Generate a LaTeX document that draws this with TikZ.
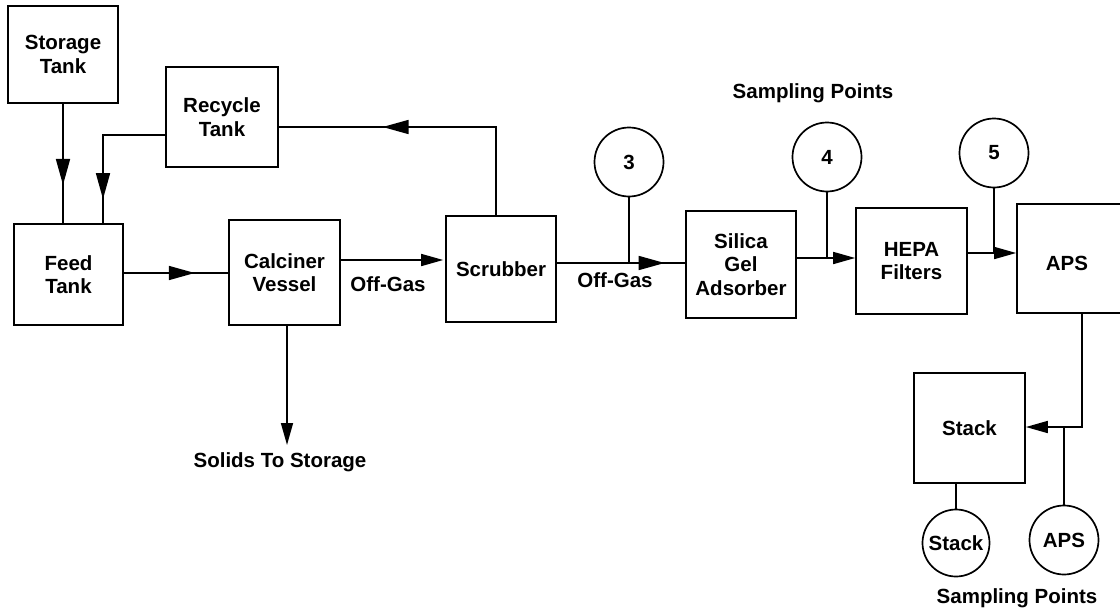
\documentclass[tikz,border=0pt]{standalone}
\usepackage{fontspec}
\setmainfont{Liberation Sans}
\usetikzlibrary{arrows.meta,decorations.markings}
\tikzset{
  every node/.style={font=\fontsize{20.5}{23.5}\selectfont\bfseries},
  box/.style={draw, line width=1.7pt, align=center, inner sep=0pt},
  samp/.style={draw, circle, line width=1.7pt, minimum size=69pt, inner sep=0pt},
  conn/.style={line width=1.7pt},
  tip/.style={-{Triangle[length=22pt,width=12pt]}},
  midarrow/.style={postaction={decorate}, decoration={markings,
      mark=at position #1 with {\arrow{Triangle[length=26pt,width=14pt]}}}},
  lbl/.style={inner sep=0pt, align=center},
}
\begin{document}
\begin{tikzpicture}[x=1pt,y=-1pt]
\useasboundingbox (0,0) rectangle (1120,613);
% boxes
\node[box, minimum width=110, minimum height=97] (storage) at (63,54.5) {Storage\\Tank};
\node[box, minimum width=112, minimum height=100] (recycle) at (222,117) {Recycle\\Tank};
\node[box, minimum width=109, minimum height=101] (feed) at (68.5,274.5) {Feed\\Tank};
\node[box, minimum width=111, minimum height=105] (calc) at (284.5,272.5) {Calciner\\Vessel};
\node[box, minimum width=110, minimum height=106] (scrub) at (501,269) {Scrubber};
\node[box, minimum width=110, minimum height=107] (silica) at (741,264.5) {Silica\\Gel\\Adsorber};
\node[box, minimum width=111, minimum height=106] (hepa) at (911.5,261) {HEPA\\Filters};
\node[box, minimum width=105, minimum height=109] (aps) at (1069.5,258.5) {};
\node[lbl] (apstext) at (1067,263) {APS};
\node[box, minimum width=111, minimum height=110] (stack) at (969.5,428) {Stack};
% sampling circles
\node[samp] (c3) at (629,162) {3};
\node[samp] (c4) at (827,157) {4};
\node[samp] (c5) at (994,153) {5};
\node[samp, minimum size=67pt] (cstack) at (956,543) {Stack};
\node[samp] (caps) at (1064,540) {APS};
% level coordinates
\coordinate (l1) at (0,273);
\coordinate (l2) at (0,260);
\coordinate (l3) at (0,263);
\coordinate (l4) at (0,258);
\coordinate (l5) at (0,253);
\coordinate (rl) at (103,135);
\coordinate (sr) at (496,127);
\coordinate (as) at (1082,427);
\coordinate (sol) at (287,445);
% connectors
\draw[conn, midarrow=0.68] (storage.south) -- (storage.south |- feed.north);
\draw[conn, midarrow=0.84] (recycle.west |- rl) -- (rl) -- (rl |- feed.north);
\draw[conn, midarrow=0.68] (feed.east |- l1) -- (calc.west |- l1);
\draw[conn, tip, shorten >=2pt] (calc.east |- l2) -- (scrub.west |- l2);
\draw[conn, midarrow=0.66] (scrub.north -| sr) -- (sr) -- (recycle.east |- sr);
\draw[conn, midarrow=0.84] (scrub.east |- l3) -- (silica.west |- l3);
\draw[conn] (c3.south) -- (c3.south |- l3);
\draw[conn, tip] (silica.east |- l4) -- (hepa.west |- l4);
\draw[conn] (c4.south) -- (c4.south |- l4);
\draw[conn, tip] (hepa.east |- l5) -- (aps.west |- l5);
\draw[conn] (c5.south) -- (c5.south |- l5);
\draw[conn, tip] (aps.south -| as) -- (as) -- (stack.east |- as);
\draw[conn] (caps.north) -- (caps.north |- as);
\draw[conn] (cstack.north |- stack.south) -- (cstack.north);
\draw[conn, tip] (calc.south -| sol) -- (sol);
% labels
\node[lbl] (og1) at (388,284) {Off-Gas};
\node[lbl] (og2) at (615,280) {Off-Gas};
\node[lbl] (sol text) at (280,462) {Solids To Storage};
\node[lbl] (sp1) at (813,93) {Sampling Points};
\node[lbl] (sp2) at (1017,598) {Sampling Points};
\end{tikzpicture}
\end{document}
